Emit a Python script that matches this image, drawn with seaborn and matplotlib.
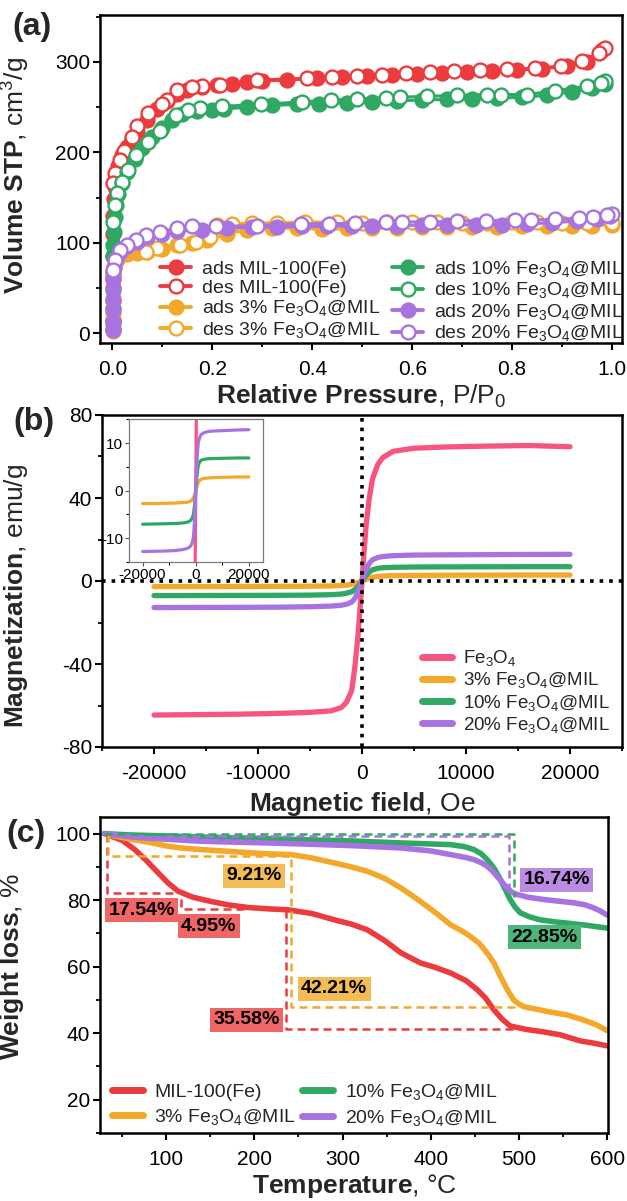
import numpy as np
import pandas as pd
import seaborn as sns
import matplotlib
matplotlib.use("Agg")
import matplotlib.pyplot as plt
from matplotlib.lines import Line2D
from matplotlib.ticker import MultipleLocator, FormatStrFormatter

# ---------------- (a) N2 isotherms ----------------
mil_ads_p = [0.0001, 0.0002, 0.0004, 0.0007, 0.001, 0.0015, 0.002, 0.003, 0.005, 0.008, 0.012, 0.02, 0.03,
             0.04, 0.05, 0.07, 0.09, 0.11, 0.13, 0.15, 0.18, 0.21, 0.24, 0.27, 0.3, 0.35, 0.41, 0.46, 0.51,
             0.56, 0.61, 0.66, 0.71, 0.76, 0.81, 0.86, 0.91, 0.95, 0.98]
mil_ads_v = [5, 15, 35, 60, 85, 110, 130, 148, 162, 174, 185, 197, 206, 214, 222, 236, 248, 257, 265, 269,
             272, 274, 276, 278, 279, 280, 282, 283, 284.5, 285.5, 286.5, 287.5, 288.5, 289.5, 291, 292.5,
             295.5, 300, 313]
mil_des_p = [0.986, 0.974, 0.94, 0.898, 0.845, 0.79, 0.736, 0.684, 0.635, 0.587, 0.54, 0.49, 0.44, 0.39,
             0.29, 0.216, 0.18, 0.16, 0.13, 0.11, 0.1, 0.071, 0.05, 0.039, 0.023, 0.015, 0.006, 0.002]
mil_des_v = [316, 310, 301, 295.5, 293, 292, 291, 290, 289, 288, 286, 284, 283, 282, 280, 274, 273, 272,
             269, 258, 254, 243, 229, 217, 202, 191, 177, 166]

f10_ads_p = [0.0001, 0.0002, 0.0004, 0.0007, 0.001, 0.0015, 0.002, 0.003, 0.005, 0.008, 0.012, 0.02, 0.03,
             0.045, 0.06, 0.08, 0.1, 0.12, 0.14, 0.17, 0.2, 0.224, 0.27, 0.32, 0.37, 0.414, 0.47, 0.52, 0.57,
             0.62, 0.67, 0.72, 0.77, 0.82, 0.87, 0.92, 0.96, 0.985]
f10_ads_v = [3, 12, 28, 48, 68, 85, 97, 112, 128, 142, 154, 166, 178, 193, 205, 217, 227, 236, 242, 246,
             247, 248, 250, 252, 253, 254, 255, 256, 257, 258, 258.5, 259, 260, 261, 263, 267, 271, 276]
f10_des_p = [0.986, 0.978, 0.95, 0.885, 0.83, 0.777, 0.75, 0.69, 0.63, 0.575, 0.547, 0.49, 0.437, 0.38,
             0.297, 0.22, 0.176, 0.152, 0.127, 0.095, 0.071, 0.047, 0.031, 0.019, 0.01, 0.006, 0.002]
f10_des_v = [278.6, 277, 273, 268, 264, 264, 264, 263, 262, 261, 260.6, 259, 258, 256, 253, 251, 249, 247,
             241, 224, 212, 197, 180, 167, 155, 142, 123]

f3_ads_p = [0.0001, 0.0002, 0.0004, 0.0007, 0.001, 0.002, 0.004, 0.008, 0.015, 0.03, 0.05, 0.07, 0.1, 0.13,
            0.16, 0.19, 0.23, 0.27, 0.32, 0.37, 0.42, 0.47, 0.52, 0.57, 0.62, 0.67, 0.72, 0.77, 0.82, 0.87,
            0.92, 0.96, 1.0]
f3_ads_v = [2, 10, 22, 36, 50, 64, 74, 80, 85, 87, 89, 90, 93, 97, 100, 103, 110, 114, 116, 116, 115, 116,
            116, 116.5, 117, 117, 117, 117.5, 118, 118, 118.5, 119, 120]
f3_des_p = [1.0, 0.95, 0.9, 0.85, 0.8, 0.75, 0.7, 0.65, 0.6, 0.55, 0.5, 0.45, 0.385, 0.33, 0.28, 0.24, 0.21,
            0.196, 0.168, 0.135, 0.09, 0.067]
f3_des_v = [122, 122, 122, 122.5, 122.5, 122, 122, 123, 123, 122.5, 122, 122.5, 123, 122, 121.5, 121, 120,
            106, 101, 98, 94, 90]

f20_ads_p = [0.0001, 0.0002, 0.0004, 0.0007, 0.001, 0.002, 0.004, 0.008, 0.015, 0.03, 0.05, 0.07, 0.1,
             0.13, 0.18, 0.23, 0.28, 0.33, 0.38, 0.43, 0.48, 0.52, 0.57, 0.62, 0.67, 0.728, 0.78, 0.83, 0.88,
             0.93, 0.97, 0.995]
f20_ads_v = [3, 12, 25, 38, 50, 62, 72, 82, 90, 96, 101, 106, 110, 113, 114, 116.7, 117, 117.5, 118, 118,
             118.5, 118.5, 119, 119.5, 119.5, 120, 120, 121, 122, 124, 126, 129]
f20_des_p = [1.0, 0.99, 0.962, 0.934, 0.885, 0.837, 0.805, 0.748, 0.69, 0.635, 0.579, 0.547, 0.486, 0.434,
             0.377, 0.29, 0.208, 0.16, 0.13, 0.095, 0.067, 0.047, 0.03, 0.015, 0.006, 0.002]
f20_des_v = [132, 130.6, 128.8, 127, 125.9, 125, 125, 124.4, 123.7, 123, 123, 122.5, 121.5, 121, 121, 119,
             118, 118, 116, 112, 108.6, 103, 97.5, 92, 81, 70]

# ---------------- (b) M-H loops ----------------
field = [-20000, -16000, -12000, -8000, -5000, -3000, -2000, -1500, -1000, -700, -400, -200, 0,
         200, 400, 700, 1000, 1500, 2000, 3000, 5000, 8000, 12000, 16000, 20000]
m_fe3o4 = [-64.6, -64.4, -64.2, -63.8, -63.3, -62.6, -61.0, -58.5, -53.0, -42.0, -27.0, -14.0, 0,
           14.0, 27.0, 40.0, 49.0, 56.0, 59.5, 62.5, 64.0, 64.6, 65.0, 65.3, 64.7]
m_f3 = [-2.7, -2.7, -2.65, -2.6, -2.5, -2.4, -2.2, -2.0, -1.6, -1.2, -0.7, -0.35, 0,
        0.4, 0.8, 1.3, 1.8, 2.2, 2.4, 2.6, 2.7, 2.8, 2.85, 2.9, 2.9]
m_f10 = [-7.05, -7.0, -6.95, -6.9, -6.8, -6.6, -6.3, -5.9, -5.2, -4.2, -2.7, -1.4, 0,
         1.4, 2.8, 4.3, 5.4, 6.1, 6.4, 6.6, 6.75, 6.8, 6.85, 6.9, 6.9]
m_f20 = [-12.8, -12.75, -12.7, -12.6, -12.4, -12.1, -11.7, -11.2, -10.2, -8.5, -5.5, -2.8, 0,
         2.8, 5.5, 8.5, 10.2, 11.3, 11.8, 12.2, 12.5, 12.6, 12.7, 12.8, 12.85]

# ---------------- (c) TGA ----------------
t_mil = [30, 38, 50, 64.5, 78, 91, 102, 113.5, 130, 151, 170, 192.7, 215, 238, 265, 290.5, 310, 328, 348,
         366, 388.6, 405, 422.5, 440, 452.7, 462, 471.5, 481, 490, 500, 509, 528, 547, 569.5, 585, 600]
w_mil = [100, 99.2, 98.0, 95.2, 91.8, 88.2, 85.2, 82.7, 80.9, 79.6, 78.6, 77.8, 77.4, 77.1, 76.0, 74.1,
         72.8, 71.1, 67.8, 64.2, 61.1, 59.8, 58.1, 55.8, 53.1, 50.6, 47.1, 44.2, 42.2, 41.6, 41.1, 40.4,
         39.5, 37.7, 37.0, 36.2]
t_f3 = [30, 34, 60, 80, 102, 120, 140, 170, 196.5, 220, 241.6, 265, 290.6, 310, 328, 348, 366, 381, 396,
        410, 422.5, 435, 445, 455, 464, 472, 479, 487, 494, 500, 505.4, 520, 535, 554.5, 573, 588, 600]
w_f3 = [100, 99.7, 98.3, 97.4, 96.2, 95.6, 95.2, 94.7, 94.2, 93.9, 93.7, 92.7, 91.2, 90.0, 88.7, 86.5,
        83.7, 81.0, 78.1, 75.3, 72.6, 70.8, 69.1, 67.0, 64.1, 61.0, 57.1, 53.0, 50.0, 48.8, 48.0, 47.2,
        46.4, 45.5, 44.0, 42.5, 40.8]
t_f10 = [30, 60, 100, 140, 200, 253, 310, 366, 400, 422.5, 438, 449, 457, 464, 472, 479, 485, 490, 496,
         501.6, 512, 524, 540, 554.5, 575, 600]
w_f10 = [100, 99.6, 99.3, 99.0, 98.6, 98.2, 97.8, 97.2, 96.9, 96.7, 96.1, 95.2, 94.0, 92.2, 89.5, 86.2,
         83.0, 80.2, 77.8, 76.2, 75.0, 74.1, 73.5, 73.1, 72.5, 71.6]
t_f20 = [30, 60, 100, 140, 200, 253, 310, 366, 400, 422.5, 440, 449, 457, 464, 470, 475, 481, 486.6, 492,
         498, 510, 528, 545, 562, 575, 584.5, 592, 600]
w_f20 = [100, 99.0, 98.3, 97.7, 97.3, 96.9, 96.4, 95.7, 94.8, 93.7, 92.8, 92.2, 91.3, 90.2, 88.8, 87.2,
         85.4, 83.7, 82.4, 81.7, 80.9, 80.2, 79.7, 79.2, 78.6, 77.7, 76.8, 75.5]

# dashed step guides (temperature, weight) and loss labels
step_mil_1 = ([32.5, 32.5, 108], [100, 82.3, 82.3])
step_mil_2 = ([117, 117, 190], [80.2, 77.4, 77.4])
step_mil_3 = ([236, 236, 494], [77.1, 41.3, 41.3])
step_f3 = ([34.4, 34.4, 241.7, 241.7, 501.6], [100, 93.2, 93.2, 48.0, 48.0])
step_f10 = ([30, 494, 494], [99.8, 99.8, 81.0])
step_f20 = ([100, 489, 489], [99.4, 99.4, 82.2])
loss_text = ["17.54%", "4.95%", "35.58%", "9.21%", "42.21%", "22.85%", "16.74%"]
loss_x = [72, 148.5, 190.8, 200, 290.6, 529, 542.6]
loss_y = [76.9, 72.1, 44.0, 87.4, 53.3, 68.9, 86.2]

RED, ORANGE, GREEN, PURPLE, PINK = "#EC3B3E", "#F3A82A", "#2FA863", "#A873E0", "#F7557F"
BOX = {"r": "#F06565", "o": "#F4BC55", "g": "#4CB57A", "p": "#B98BE3"}
loss_box = ["r", "r", "r", "o", "o", "g", "p"]

sns.set_style("ticks")
plt.rcParams.update({
    "font.family": ["Liberation Sans", "DejaVu Sans"],
    "mathtext.fontset": "custom",
    "mathtext.rm": "Liberation Sans",
    "mathtext.it": "Liberation Sans:italic",
    "mathtext.bf": "Liberation Sans:bold",
    "axes.unicode_minus": False,
    "axes.linewidth": 1.6,
    "axes.edgecolor": "black",
    "xtick.direction": "out", "ytick.direction": "out",
    "xtick.major.size": 5, "ytick.major.size": 5,
    "xtick.minor.size": 3, "ytick.minor.size": 3,
    "xtick.major.width": 1.5, "ytick.major.width": 1.5,
    "xtick.minor.width": 1.3, "ytick.minor.width": 1.3,
    "xtick.labelsize": 15, "ytick.labelsize": 15,
    "xtick.color": "black", "ytick.color": "black",
})


def style(ax, xmaj, xmin, ymaj, ymin):
    ax.xaxis.set_major_locator(MultipleLocator(xmaj))
    ax.xaxis.set_minor_locator(MultipleLocator(xmin))
    ax.yaxis.set_major_locator(MultipleLocator(ymaj))
    ax.yaxis.set_minor_locator(MultipleLocator(ymin))
    ax.tick_params(axis="x", pad=7)
    ax.tick_params(axis="y", pad=2)
    for s in ax.spines.values():
        s.set_linewidth(1.8)


fig = plt.figure(figsize=(6.27, 12.01), dpi=100)
W, H = 627, 1201


def box(x0, x1, top, bot):
    return [x0 / W, 1 - bot / H, (x1 - x0) / W, (bot - top) / H]


# ----- panel (a) -----
ax1 = fig.add_axes(box(100, 622, 15, 343))
iso = [
    ("ads MIL-100(Fe)", mil_ads_p, mil_ads_v, RED, True),
    ("des MIL-100(Fe)", mil_des_p, mil_des_v, RED, False),
    ("ads 10% Fe$_3$O$_4$@MIL", f10_ads_p, f10_ads_v, GREEN, True),
    ("des 10% Fe$_3$O$_4$@MIL", f10_des_p, f10_des_v, GREEN, False),
    ("ads 3% Fe$_3$O$_4$@MIL", f3_ads_p, f3_ads_v, ORANGE, True),
    ("des 3% Fe$_3$O$_4$@MIL", f3_des_p, f3_des_v, ORANGE, False),
    ("ads 20% Fe$_3$O$_4$@MIL", f20_ads_p, f20_ads_v, PURPLE, True),
    ("des 20% Fe$_3$O$_4$@MIL", f20_des_p, f20_des_v, PURPLE, False),
]
handles = {}
for lab, p, v, c, filled in iso:
    sns.lineplot(x=p, y=v, ax=ax1, color=c, lw=2.2, marker="o", markersize=10,
                 markerfacecolor=c if filled else "white", markeredgecolor=c,
                 markeredgewidth=1.7, estimator=None, sort=False)
    handles[lab] = Line2D([], [], color=c, lw=2.8, marker="o", markersize=10,
                          markerfacecolor=c if filled else "white", markeredgecolor=c,
                          markeredgewidth=1.7)
order = [0, 1, 4, 5, 2, 3, 6, 7]
labs = [iso[i][0] for i in order]
ax1.legend([handles[l] for l in labs], labs, ncol=2, frameon=False, fontsize=14,
           loc="lower left", bbox_to_anchor=(0.1, -0.025), handlelength=1.6,
           handletextpad=0.55, columnspacing=0.6, labelspacing=0.08, borderaxespad=0)
ax1.set_xlim(-0.025, 1.02)
ax1.set_ylim(-11, 352)
style(ax1, 0.2, 0.1, 100, 50)
ax1.xaxis.set_major_formatter(FormatStrFormatter("%.1f"))
ax1.set_xlabel(r"$\mathbf{Relative\ Pressure}$, P/P$_0$", fontsize=19)
ax1.xaxis.set_label_coords(0.5, -0.12)
ax1.set_ylabel(r"$\mathbf{Volume\ STP}$, cm$^3$/g", fontsize=19)
ax1.yaxis.set_label_coords(-0.13, 0.51)

# ----- panel (b) -----
ax2 = fig.add_axes(box(102, 622, 415, 747))
mh = pd.DataFrame({"H": field, "Fe$_3$O$_4$": m_fe3o4, "3% Fe$_3$O$_4$@MIL": m_f3,
                   "10% Fe$_3$O$_4$@MIL": m_f10, "20% Fe$_3$O$_4$@MIL": m_f20})
mh_cols = [("Fe$_3$O$_4$", PINK), ("3% Fe$_3$O$_4$@MIL", ORANGE),
           ("10% Fe$_3$O$_4$@MIL", GREEN), ("20% Fe$_3$O$_4$@MIL", PURPLE)]
for col, c in mh_cols:
    sns.lineplot(data=mh, x="H", y=col, ax=ax2, color=c, lw=3.8, label=col,
                 estimator=None, sort=False)
ax2.axhline(0, color="black", ls=":", lw=2.6, zorder=5)
ax2.axvline(0, color="black", ls=":", lw=2.6, zorder=5)
ax2.legend(frameon=False, fontsize=13.5, loc="lower right", bbox_to_anchor=(1.0, 0.0),
           handlelength=1.6, handletextpad=0.6, labelspacing=0.12, borderaxespad=0.25)
for ln in ax2.get_legend().get_lines():
    ln.set_linewidth(5)
ax2.set_xlim(-25000, 25000)
ax2.set_ylim(-80, 80)
style(ax2, 10000, 5000, 40, 20)
ax2.set_xlabel(r"$\mathbf{Magnetic\ field}$, Oe", fontsize=19)
ax2.xaxis.set_label_coords(0.5, -0.13)
ax2.set_ylabel(r"$\mathbf{Magnetization}$, emu/g", fontsize=19)
ax2.yaxis.set_label_coords(-0.138, 0.455)

# inset
axi = fig.add_axes(box(128.5, 263, 419, 562))
for col, c in mh_cols:
    sns.lineplot(data=mh, x="H", y=col, ax=axi, color=c, lw=2.3, legend=False,
                 estimator=None, sort=False)
axi.set_xlim(-25300, 25300)
axi.set_ylim(-15, 15.1)
axi.set_xlabel("")
axi.set_ylabel("")
axi.xaxis.set_major_locator(MultipleLocator(20000))
axi.xaxis.set_minor_locator(MultipleLocator(10000))
axi.yaxis.set_major_locator(MultipleLocator(10))
axi.yaxis.set_minor_locator(MultipleLocator(5))
axi.tick_params(labelsize=11, length=3, width=0.8, pad=1, color="#555555")
axi.tick_params(which="minor", length=2, width=0.8)
for s in axi.spines.values():
    s.set_linewidth(0.9)
    s.set_edgecolor("#7a7a7a")

# ----- panel (c) -----
ax3 = fig.add_axes(box(100, 608, 817, 1133))
tga = [("MIL-100(Fe)", t_mil, w_mil, RED), ("3% Fe$_3$O$_4$@MIL", t_f3, w_f3, ORANGE),
       ("10% Fe$_3$O$_4$@MIL", t_f10, w_f10, GREEN), ("20% Fe$_3$O$_4$@MIL", t_f20, w_f20, PURPLE)]
for lab, t, w, c in tga:
    sns.lineplot(x=t, y=w, ax=ax3, color=c, lw=4, label=lab, estimator=None, sort=False)
steps = [(step_mil_1, RED), (step_mil_2, RED), (step_mil_3, RED), (step_f3, ORANGE),
         (step_f10, GREEN), (step_f20, PURPLE)]
for (sx, sy), c in steps:
    ax3.plot(sx, sy, color=c, lw=1.8, ls=(0, (3.2, 2)), zorder=4)
for txt, x, y, k in zip(loss_text, loss_x, loss_y, loss_box):
    ax3.text(x, y, txt, ha="center", va="center", fontsize=14, fontweight="bold",
             color="black", zorder=6,
             bbox=dict(boxstyle="square,pad=0.18", fc=BOX[k], ec="none"))
ax3.legend(ncol=2, frameon=False, fontsize=14, loc="lower left", bbox_to_anchor=(0.0, -0.02),
           handlelength=1.6, handletextpad=0.6, columnspacing=0.3, labelspacing=0.3,
           borderaxespad=0.2)
for ln in ax3.get_legend().get_lines():
    ln.set_linewidth(5)
ax3.set_xlim(25, 601)
ax3.set_ylim(10, 105)
style(ax3, 100, 50, 20, 10)
ax3.set_xlabel(r"$\mathbf{Temperature}$, °C", fontsize=19)
ax3.xaxis.set_label_coords(0.5, -0.125)
ax3.set_ylabel(r"$\mathbf{Weight\ loss}$, %", fontsize=19)
ax3.yaxis.set_label_coords(-0.146, 0.526)

for txt, x, y in [("(a)", 12, 12), ("(b)", 13, 407), ("(c)", 6, 819)]:
    fig.text(x / W, 1 - y / H, txt, fontsize=23, fontweight="bold", ha="left", va="top")

fig.savefig("out.png", dpi=100)
